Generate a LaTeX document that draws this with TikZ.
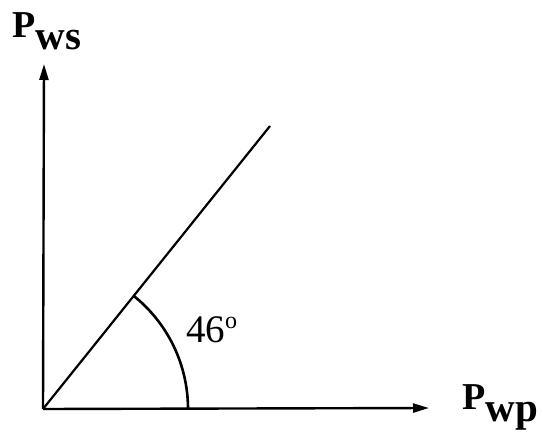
\documentclass[tikz,border=0pt]{standalone}
\usepackage{fontspec}
\setmainfont{Liberation Serif}
\usetikzlibrary{arrows.meta}

\tikzset{
  axis/.style={line width=2.4pt, -{Stealth[length=16pt,width=9pt,inset=0pt]}},
  ray/.style={line width=2.2pt},
  axlabel/.style={inner sep=0pt, anchor=base west, font=\fontsize{38}{38}\selectfont\bfseries},
  anglabel/.style={inner sep=0pt, anchor=base west, font=\fontsize{39}{39}\selectfont}
}
\newcommand{\axsub}[1]{\raisebox{-12pt}{\fontsize{41}{41}\selectfont #1}}

\begin{document}
\begin{tikzpicture}[x=1pt,y=-1pt]
			\useasboundingbox (0,0) rectangle (543,441);

			% Axis end points
			\coordinate (O) at (43,409);
			\coordinate (Y) at (44,64);
			\coordinate (X) at (429,408);
			\coordinate (L) at (270,126);

			% Draw the axes
			\draw[axis] (O) -- (Y);
			\draw[axis] (O) -- (X);

			% Inclined line and its angle
			\draw[ray] (O) -- (L);
			\draw[line width=2.6pt] ([shift={(0:145)}]O) arc[start angle=0, end angle=-51, radius=145];

			% Labels
			\node[axlabel] (Pws) at (12,38) {P\axsub{ws}};
			\node[axlabel] (Pwp) at (462,409) {P\axsub{wp}};
			\node[anglabel] (ang) at (186,342) {46\raisebox{14pt}{\fontsize{24}{24}\selectfont o}};

		\end{tikzpicture}
\end{document}
